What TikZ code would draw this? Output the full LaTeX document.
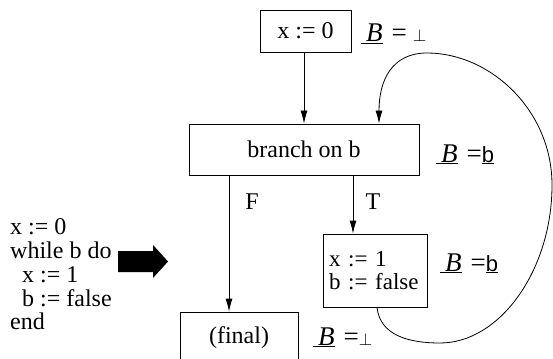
\documentclass[tikz,border=0pt]{standalone}
\usepackage{fontspec}
\setmainfont{Liberation Serif}
\setsansfont{Liberation Sans}
\usetikzlibrary{arrows.meta}
\newcommand{\BBu}{\underline{\hspace{5pt}\textit{B}}\hspace{9pt}}
\newcommand{\mybot}{{\fontsize{16}{18}\selectfont$\perp$}}
\newcommand{\ubsf}{\underline{\fontsize{22}{22}\selectfont\textsf{b}}}
\begin{document}
\begin{tikzpicture}[x=1pt,y=-1pt,
  every node/.style={font=\fontsize{24}{23.75}\selectfont, inner sep=0pt},
  lab/.style={anchor=base west, font=\fontsize{27}{28}\selectfont},
  box/.style={draw, line width=0.8pt},
  arr/.style={-{Latex[length=13pt,width=7pt]}, line width=0.8pt}]
\useasboundingbox (0,0) rectangle (553,358);
\clip (0,0) rectangle (553,358);
\node[box, minimum width=91pt, minimum height=42pt] (top) at (305.5,31) {x := 0};
\node[lab] (l1) at (361,42) {\BBu=\hspace{6pt}\mybot};
\node[box, minimum width=230pt, minimum height=51pt] (br) at (304,149.5) {branch on b};
\node[lab] (l2) at (436,162) {\BBu=\ubsf};
\node[box, minimum width=104pt, minimum height=73pt, align=left, text width=92pt,
  font=\fontsize{23}{22.5}\selectfont] (x1) at (375,270.5) {x := 1\\b := false};
\node[lab] (l3) at (440,271) {\BBu=\ubsf};
\node[box, minimum width=118pt, minimum height=52pt] (fin) at (239,338) {(final)};
\node[lab] (l4) at (313,345) {\BBu=\mybot};
\node (F) at (252,202) {F};
\node (T) at (373,202) {T};
\node[anchor=west, align=left] (code) at (10,274.5) {x := 0\\while b do\\\hspace*{12pt}x := 1\\\hspace*{12pt}b := false\\end};
\fill (118,251) -- (153,251) -- (153,245) -- (168,261.5) -- (153,278) -- (153,272) -- (118,272) -- cycle;
\draw[arr] ([xshift=-1.5pt]top.south) -- ([xshift=0pt]br.north);
\draw[arr] ([xshift=-75pt]br.south) -- ([xshift=-10pt]fin.north);
\draw[arr] ([xshift=49pt]br.south) -- ([xshift=-22pt]x1.north);
\draw[arr] ([xshift=2pt]x1.south) .. controls (380,335) and (408,343) .. (440,343)
  .. controls (500,343) and (552,270) .. (552,185)
  .. controls (552,110) and (490,53) .. (427,53)
  .. controls (392,53) and (379,80) .. ([xshift=75pt]br.north);
\end{tikzpicture}
\end{document}
